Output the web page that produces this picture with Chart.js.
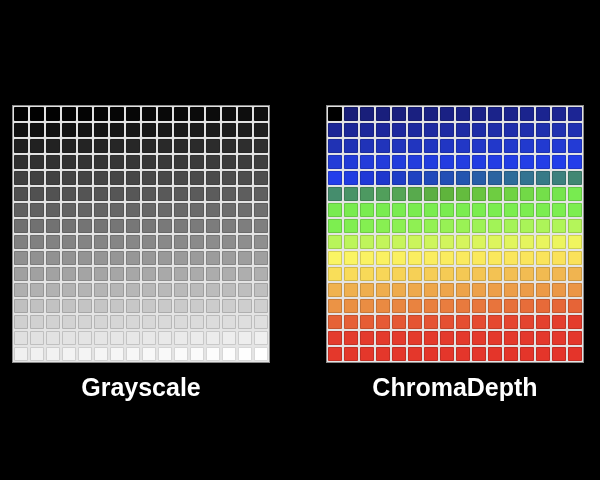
<!DOCTYPE html>
<html>
<head>
<meta charset="utf-8">
<script src="https://cdn.jsdelivr.net/npm/chart.js@4.4.0/dist/chart.umd.min.js"></script>
<style>
  html, body { margin: 0; padding: 0; background: #000; width: 600px; height: 480px; overflow: hidden; }
  .box { position: absolute; top: 0; width: 300px; height: 480px; }
</style>
</head>
<body>
<div class="box" style="left:0"><canvas id="grayChart" width="300" height="480"></canvas></div>
<div class="box" style="left:300px"><canvas id="chromaChart" width="300" height="480"></canvas></div>
<script>
// cell levels, row by row (top row first)
const levels = [
  [0, 1, 2, 3, 4, 5, 6, 7, 8, 9, 10, 11, 12, 13, 14, 15],
  [16, 17, 18, 19, 20, 21, 22, 23, 24, 25, 26, 27, 28, 29, 30, 31],
  [32, 33, 34, 35, 36, 37, 38, 39, 40, 41, 42, 43, 44, 45, 46, 47],
  [48, 49, 50, 51, 52, 53, 54, 55, 56, 57, 58, 59, 60, 61, 62, 63],
  [64, 65, 66, 67, 68, 69, 70, 71, 72, 73, 74, 75, 76, 77, 78, 79],
  [80, 81, 82, 83, 84, 85, 86, 87, 88, 89, 90, 91, 92, 93, 94, 95],
  [96, 97, 98, 99, 100, 101, 102, 103, 104, 105, 106, 107, 108, 109, 110, 111],
  [112, 113, 114, 115, 116, 117, 118, 119, 120, 121, 122, 123, 124, 125, 126, 127],
  [128, 129, 130, 131, 132, 133, 134, 135, 136, 137, 138, 139, 140, 141, 142, 143],
  [144, 145, 146, 147, 148, 149, 150, 151, 152, 153, 154, 155, 156, 157, 158, 159],
  [160, 161, 162, 163, 164, 165, 166, 167, 168, 169, 170, 171, 172, 173, 174, 175],
  [176, 177, 178, 179, 180, 181, 182, 183, 184, 185, 186, 187, 188, 189, 190, 191],
  [192, 193, 194, 195, 196, 197, 198, 199, 200, 201, 202, 203, 204, 205, 206, 207],
  [208, 209, 210, 211, 212, 213, 214, 215, 216, 217, 218, 219, 220, 221, 222, 223],
  [224, 225, 226, 227, 228, 229, 230, 231, 232, 233, 234, 235, 236, 237, 238, 239],
  [240, 241, 242, 243, 244, 245, 246, 247, 248, 249, 250, 251, 252, 253, 254, 255],
];

// ChromaDepth colour stops (level -> rgb)
const chromaLevels = [1, 16, 32, 48, 64, 67, 72, 76, 79, 84, 87, 90, 95, 112, 127, 143, 144, 159, 175, 191, 207, 223, 255];
const chromaColors = [
  [25, 30, 120], [28, 38, 150], [32, 50, 180], [35, 60, 215],
  [35, 62, 235], [30, 55, 205], [35, 85, 175], [50, 115, 145],
  [65, 135, 115], [85, 165, 85], [95, 180, 60], [110, 205, 65],
  [120, 235, 80], [125, 238, 80], [180, 245, 90], [240, 245, 95],
  [250, 245, 100], [250, 225, 90], [240, 180, 80], [235, 150, 70],
  [230, 100, 55], [228, 60, 45], [228, 52, 42],
];

const titles = ["Grayscale", "ChromaDepth"];

function chroma(v) {
  if (v === 0) return [0, 0, 0];
  for (let i = 1; i < chromaLevels.length; i++) {
    if (v <= chromaLevels[i]) {
      const t = (v - chromaLevels[i - 1]) / (chromaLevels[i] - chromaLevels[i - 1]);
      const a = chromaColors[i - 1], b = chromaColors[i];
      return a.map((x, k) => Math.round(x + (b[k] - x) * t));
    }
  }
  return chromaColors[chromaColors.length - 1];
}
const gray = v => [v, v, v];

const rgb = c => `rgb(${c[0]},${c[1]},${c[2]})`;
const edge = c => rgb(c.map(x => Math.round(x * 0.85)));

// light gap behind the cells + grey frame
const gridBack = {
  id: "gridBack",
  beforeDatasetsDraw(chart) {
    const { ctx, chartArea: a } = chart;
    ctx.save();
    ctx.fillStyle = "#e4e4e4";
    ctx.fillRect(a.left, a.top, a.right - a.left, a.bottom - a.top);
    ctx.strokeStyle = "#8a8a8a";
    ctx.lineWidth = 1;
    ctx.strokeRect(a.left - 0.5, a.top - 0.5, a.right - a.left + 1, a.bottom - a.top + 1);
    ctx.restore();
  },
};

function makeChart(id, title, colorFn, pad) {
  const pts = [], fills = [], edges = [];
  levels.forEach((row, r) => row.forEach((v, c) => {
    pts.push({ x: c, y: r });
    const col = colorFn(v);
    fills.push(rgb(col));
    edges.push(edge(col));
  }));

  return new Chart(document.getElementById(id).getContext("2d"), {
    type: "scatter",
    data: {
      datasets: [{
        data: pts,
        pointStyle: "rect",
        pointRadius: 9.2,
        pointHoverRadius: 9.2,
        backgroundColor: fills,
        borderColor: edges,
        borderWidth: 1,
      }],
    },
    options: {
      responsive: false,
      animation: false,
      events: [],
      layout: { padding: pad },
      scales: {
        x: { display: false, min: -0.5, max: 15.5 },
        y: { display: false, min: -0.5, max: 15.5, reverse: true },
      },
      plugins: {
        legend: { display: false },
        tooltip: { enabled: false },
        title: {
          display: true,
          position: "bottom",
          text: title,
          color: "#fff",
          font: { family: "Liberation Sans", size: 25, weight: "bold" },
          padding: { top: 12, bottom: 10 },
        },
      },
    },
    plugins: [gridBack],
  });
}

makeChart("grayChart", titles[0], gray, { left: 13, right: 31, top: 106, bottom: 66 });
makeChart("chromaChart", titles[1], chroma, { left: 27, right: 17, top: 106, bottom: 66 });
</script>
</body>
</html>
